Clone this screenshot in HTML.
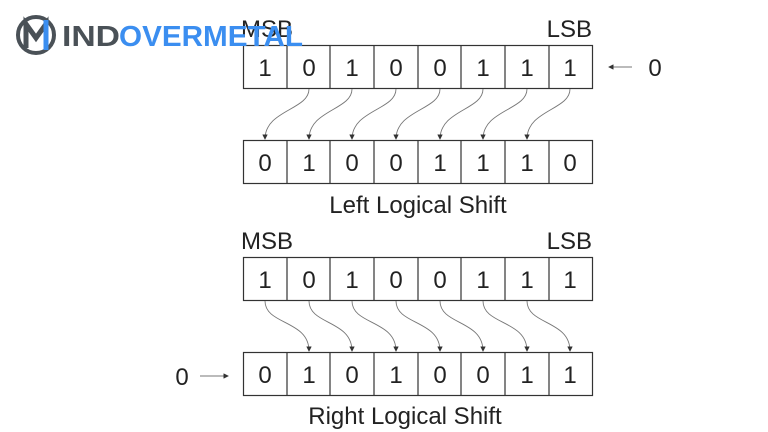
<!DOCTYPE html>
<html><head><style>
body{margin:0;background:#fff;}
svg{display:block;}
</style></head><body>
<svg width="768" height="432" viewBox="0 0 768 432" xmlns="http://www.w3.org/2000/svg" font-family="Liberation Sans, sans-serif">
<defs><marker id="a" markerWidth="6" markerHeight="6" refX="5" refY="3" orient="auto"><path d="M0,0 L6,3 L0,6z" fill="#333"/></marker></defs>
<g fill="none" stroke="#333" stroke-width="1.2">
<rect x="243.5" y="45.5" width="349" height="43"/>
<rect x="243.5" y="140.5" width="349" height="43"/>
<rect x="243.5" y="257.5" width="349" height="43"/>
<rect x="243.5" y="352.5" width="349" height="43"/>
<path d="M287 45v43M330 45v43M374 45v43M418 45v43M461 45v43M505 45v43M549 45v43"/>
<path d="M287 140v43M330 140v43M374 140v43M418 140v43M461 140v43M505 140v43M549 140v43"/>
<path d="M287 257v43M330 257v43M374 257v43M418 257v43M461 257v43M505 257v43M549 257v43"/>
<path d="M287 352v43M330 352v43M374 352v43M418 352v43M461 352v43M505 352v43M549 352v43"/>
</g>
<g fill="none" stroke="#777" stroke-width="0.9" marker-end="url(#a)">
<path d="M309 89 C309 110 265 110 265 139"/>
<path d="M352 89 C352 110 309 110 309 139"/>
<path d="M396 89 C396 110 352 110 352 139"/>
<path d="M440 89 C440 110 396 110 396 139"/>
<path d="M483 89 C483 110 440 110 440 139"/>
<path d="M527 89 C527 110 483 110 483 139"/>
<path d="M570 89 C570 110 527 110 527 139"/>
<path d="M265 301 C265 325 309 320 309 351"/>
<path d="M309 301 C309 325 352 320 352 351"/>
<path d="M352 301 C352 325 396 320 396 351"/>
<path d="M396 301 C396 325 440 320 440 351"/>
<path d="M440 301 C440 325 483 320 483 351"/>
<path d="M483 301 C483 325 527 320 527 351"/>
<path d="M527 301 C527 325 570 320 570 351"/>
<path d="M632 67 H609"/>
<path d="M200 376 H228"/>
</g>
<g font-size="24" fill="#222" text-anchor="middle">
<g transform="translate(0,76)"><text x="265">1</text><text x="309">0</text><text x="352">1</text><text x="396">0</text><text x="440">0</text><text x="483">1</text><text x="527">1</text><text x="570">1</text></g>
<g transform="translate(0,171)"><text x="265">0</text><text x="309">1</text><text x="352">0</text><text x="396">0</text><text x="440">1</text><text x="483">1</text><text x="527">1</text><text x="570">0</text></g>
<g transform="translate(0,288)"><text x="265">1</text><text x="309">0</text><text x="352">1</text><text x="396">0</text><text x="440">0</text><text x="483">1</text><text x="527">1</text><text x="570">1</text></g>
<g transform="translate(0,383)"><text x="265">0</text><text x="309">1</text><text x="352">0</text><text x="396">1</text><text x="440">0</text><text x="483">0</text><text x="527">1</text><text x="570">1</text></g>
<text x="655" y="76">0</text>
<text x="182" y="385">0</text>
<text x="418" y="213">Left Logical Shift</text>
<text x="405" y="424">Right Logical Shift</text>
</g>
<g font-size="24" fill="#222">
<text x="241" y="37">MSB</text>
<text x="592" y="37" text-anchor="end">LSB</text>
<text x="241" y="249">MSB</text>
<text x="592" y="249" text-anchor="end">LSB</text>
</g>
<g>
<circle cx="36" cy="35" r="18" fill="none" stroke="#4a5157" stroke-width="4"/>
<path d="M26 48 V24 L36 38 L46 24 V48" fill="none" stroke="#4a5157" stroke-width="5"/>
<path d="M46 20 V50" stroke="#3b8ef0" stroke-width="5"/>
<text x="62" y="46" font-size="29" font-weight="bold" fill="#4a5157" textLength="58" lengthAdjust="spacingAndGlyphs">IND</text>
<text x="119" y="46" font-size="29" font-weight="bold" fill="#3b8ef0" textLength="184" lengthAdjust="spacingAndGlyphs">OVERMETAL</text>
</g>
</svg>
</body></html>
